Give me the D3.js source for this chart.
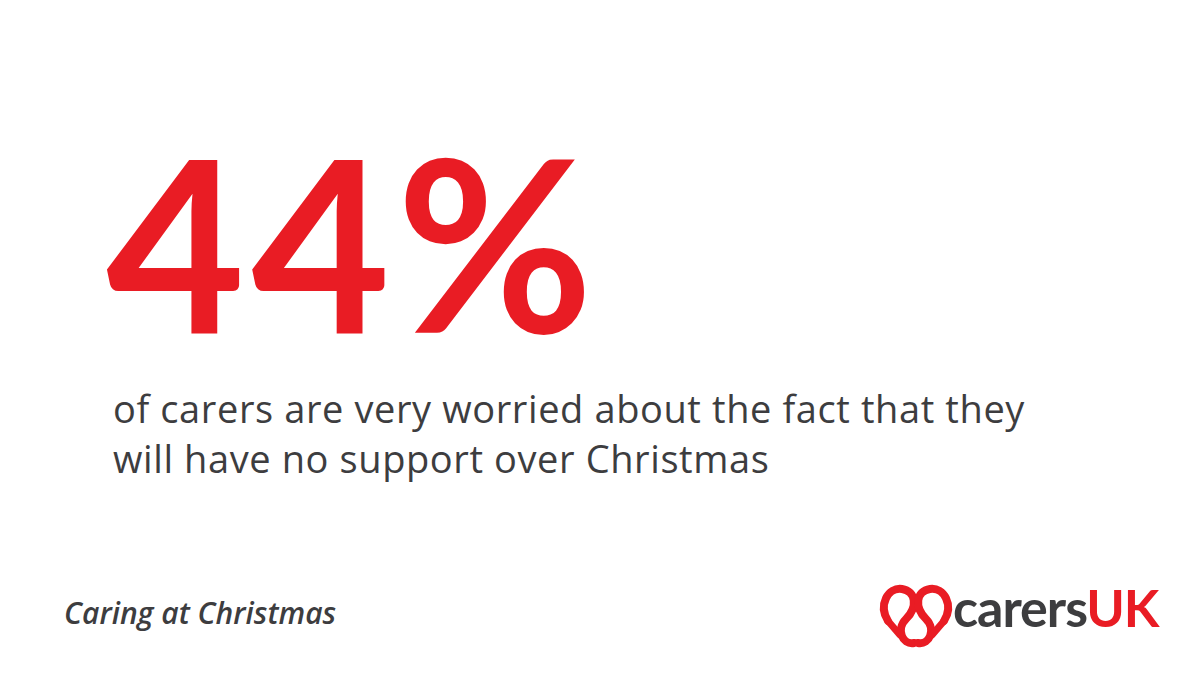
<!DOCTYPE html>
<html><head><meta charset="utf-8">
<script src="https://cdn.jsdelivr.net/npm/d3@7"></script>
<style>body{margin:0;background:#fff}</style>
</head><body>
<div id="container"></div>
<script>
const statValue = [44];
const statLines = ["of carers are very worried about the fact that they", "will have no support over Christmas"];
const footerLabel = ["Caring at Christmas"];
const brandParts = ["carers", "UK"];

const width = 1200, height = 675;
const red = "#e91c24", dark = "#3d3d3f";

const svg = d3.select("#container").append("svg")
  .attr("width", width).attr("height", height);

svg.append("text")
  .attr("x", 106).attr("y", 333)
  .style("font-family", "Lato, 'Noto Sans', sans-serif")
  .style("font-weight", 700)
  .style("font-size", "240px")
  .style("letter-spacing", "6px")
  .style("fill", red)
  .text(statValue[0] + "%");

svg.append("g").selectAll("text").data(statLines).enter().append("text")
  .attr("x", 113).attr("y", (d, i) => 423 + i * 50)
  .style("font-family", "'Open Sans', sans-serif")
  .style("font-size", "38px")
  .style("letter-spacing", "0.6px")
  .style("fill", dark)
  .text(d => d);

svg.append("text")
  .attr("x", 64).attr("y", 624)
  .style("font-family", "'Open Sans', sans-serif")
  .style("font-style", "italic")
  .style("font-weight", 600)
  .style("font-size", "30px")
  .style("fill", dark)
  .text(footerLabel[0]);

// ribbon icon
const icon = svg.append("g").attr("transform", "translate(884,583)")
  .style("fill", "none").style("stroke", red).style("stroke-width", 8).style("stroke-linecap", "round");
icon.append("path").attr("d", "M4,38 C-6,22 4,4 18,6 C32,8 34,24 22,36 C12,46 18,62 30,60");
icon.append("path").attr("d", "M60,38 C70,22 60,4 46,6 C32,8 30,24 42,36 C52,46 46,62 34,60");
icon.append("path").attr("d", "M4,38 L16,52").style("stroke-width", 7);
icon.append("path").attr("d", "M60,38 L48,52").style("stroke-width", 7);

const brand = svg.append("text")
  .attr("x", 953).attr("y", 627)
  .style("font-family", "Lato, 'Noto Sans', sans-serif")
  .style("font-weight", 700)
  .style("font-size", "52px")
  .style("letter-spacing", "-1px");
brand.append("tspan").style("fill", dark).text(brandParts[0]);
brand.append("tspan").style("fill", red).text(brandParts[1]);
</script>
</body></html>
